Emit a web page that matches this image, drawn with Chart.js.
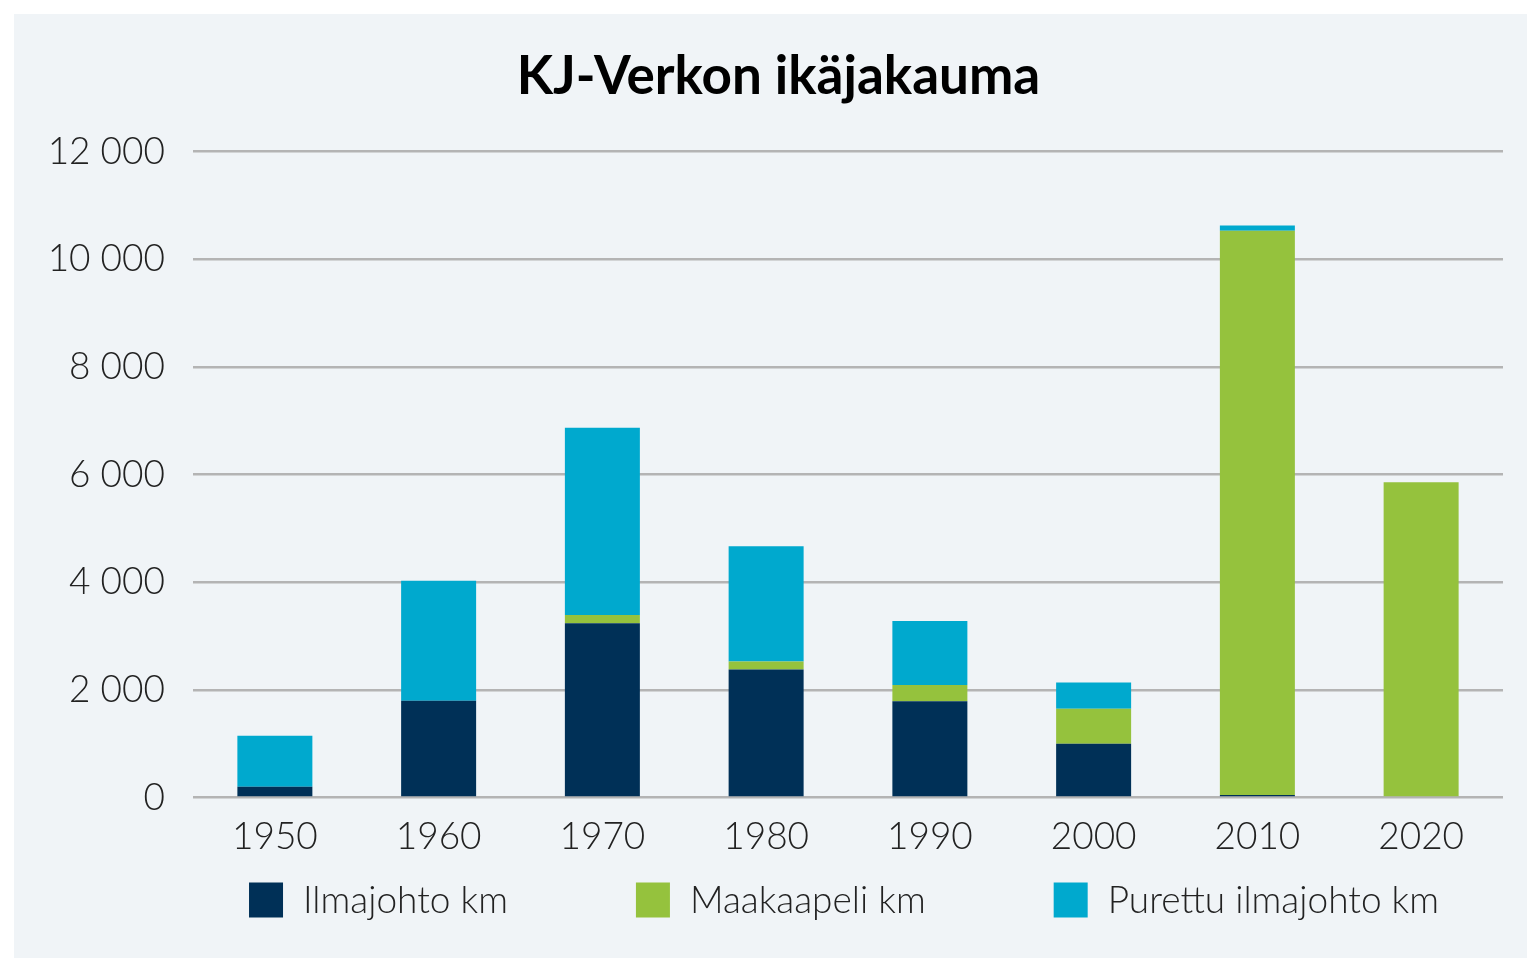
<!DOCTYPE html>
<html lang="fi">
<head>
  <meta charset="UTF-8" />
  <title>KJ-Verkon ikäjakauma</title>
  <script src="https://cdn.jsdelivr.net/npm/chart.js"></script>
  <style>
    html, body { margin: 0; padding: 0; background: #ffffff; }
    #wrap { position: absolute; left: 14px; top: 14px; width: 1513px; height: 944px; background: #f0f4f7; }
  </style>
</head>
<body>
  <div id="wrap">
    <canvas id="chart" width="1513" height="944"></canvas>
  </div>

  <script>
    const years = ['1950', '1960', '1970', '1980', '1990', '2000', '2010', '2020'];
    const ilmajohto = [200, 1800, 3240, 2380, 1790, 1000, 50, 0];
    const maakaapeli = [0, 0, 150, 150, 300, 650, 10480, 5860];
    const purettu = [950, 2230, 3480, 2140, 1190, 490, 95, 0];

    const fmt = v => String(v).replace(/\B(?=(\d{3})+(?!\d))/g, ' ');
    const font = 'Lato, "Open Sans", sans-serif';

    // legend drawn below the axis, items spaced like the original
    const bottomLegend = {
      id: 'bottomLegend',
      afterLayout(chart) {
        // title sits a bit right of the canvas centre
        chart.titleBlock.left += 40;
      },
      afterDraw(chart) {
        const ctx = chart.ctx;
        const sets = chart.data.datasets;
        const box = 34, boxH = 35, textGap = 20, itemGap = 128;
        ctx.save();
        ctx.font = '300 37px ' + font;
        ctx.textBaseline = 'middle';
        const widths = sets.map(d => box + textGap + ctx.measureText(d.label).width);
        const total = widths.reduce((a, b) => a + b, 0) + itemGap * (sets.length - 1);
        const a = chart.chartArea;
        let x = (a.left + a.right) / 2 - total / 2 - 4;
        const cy = 886;
        sets.forEach((d, i) => {
          ctx.fillStyle = d.backgroundColor;
          ctx.fillRect(x, cy - boxH / 2, box, boxH);
          ctx.fillStyle = '#222';
          ctx.fillText(d.label, x + box + textGap, cy + 1);
          x += widths[i] + itemGap;
        });
        ctx.restore();
      }
    };

    new Chart(document.getElementById('chart'), {
      type: 'bar',
      data: {
        labels: years,
        datasets: [
          { label: 'Ilmajohto km', data: ilmajohto, backgroundColor: '#003057' },
          { label: 'Maakaapeli km', data: maakaapeli, backgroundColor: '#95c23d' },
          { label: 'Purettu ilmajohto km', data: purettu, backgroundColor: '#00a9ce' }
        ]
      },
      options: {
        responsive: false,
        animation: false,
        layout: { padding: { left: 0, right: 24, top: 0, bottom: 82 } },
        datasets: { bar: { barPercentage: 0.458, categoryPercentage: 1 } },
        scales: {
          x: {
            stacked: true,
            grid: { display: false, drawTicks: false },
            border: { display: false },
            ticks: { color: '#222', font: { family: font, size: 37, weight: 300 }, padding: 17 }
          },
          y: {
            stacked: true,
            min: 0,
            max: 12000,
            afterFit: s => { s.width = 179; },
            grid: { color: '#b4b4b4', lineWidth: 2.5, drawTicks: false },
            border: { display: false },
            ticks: {
              stepSize: 2000,
              padding: 28,
              color: '#222',
              font: { family: font, size: 37, weight: 300 },
              callback: v => fmt(v)
            }
          }
        },
        plugins: {
          tooltip: { enabled: false },
          legend: { display: false },
          title: {
            display: true,
            text: 'KJ-Verkon ikäjakauma',
            color: '#000',
            font: { family: font, size: 53, weight: 'bold' },
            padding: { top: 31, bottom: 43 }
          }
        }
      },
      plugins: [bottomLegend]
    });
  </script>
</body>
</html>
